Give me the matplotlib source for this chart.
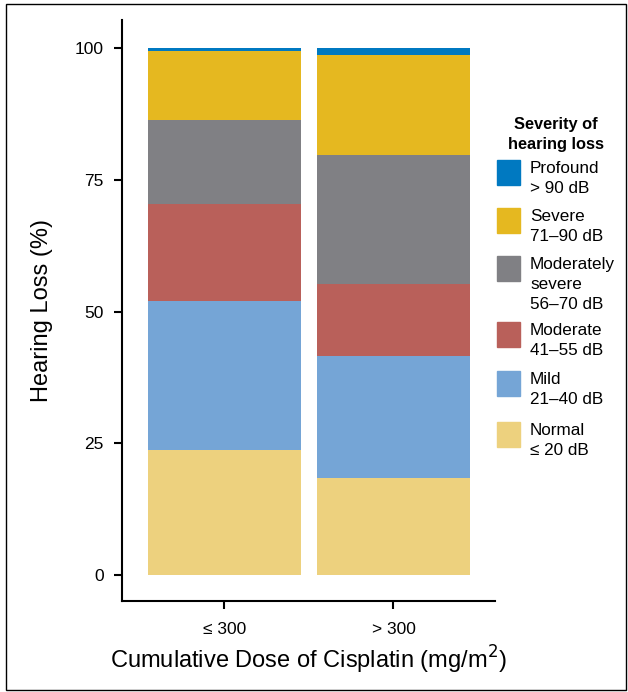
import matplotlib
matplotlib.use('Agg')
import matplotlib.pyplot as plt
from matplotlib.patches import Rectangle
import numpy as np

plt.rcParams['font.family'] = ['Liberation Sans', 'DejaVu Sans']

# 数据：每组的听力损失等级百分比（自下而上）
groups = ['≤ 300', '> 300']
severity = ['Normal', 'Mild', 'Moderate', 'Moderately severe', 'Severe', 'Profound']
values = {
    'Normal':            [23.7, 18.4],
    'Mild':              [28.3, 23.2],
    'Moderate':          [18.5, 13.6],
    'Moderately severe': [15.8, 24.5],
    'Severe':            [13.1, 19.0],
    'Profound':          [0.6, 1.3],
}
legend_labels = ['Profound\n> 90 dB', 'Severe\n71–90 dB', 'Moderately\nsevere\n56–70 dB',
                 'Moderate\n41–55 dB', 'Mild\n21–40 dB', 'Normal\n≤ 20 dB']
colors = {
    'Normal': '#EDD17E',
    'Mild': '#75A5D6',
    'Moderate': '#B9605A',
    'Moderately severe': '#808084',
    'Severe': '#E5B820',
    'Profound': '#0079C1',
}

fig = plt.figure(figsize=(6.28, 6.92), dpi=100)
ax = fig.add_axes([0.194, 0.1315, 0.594, 0.8395])

x = np.arange(len(groups))
bottom = np.zeros(len(groups))
for s in severity:
    v = np.array(values[s])
    ax.bar(x, v, bottom=bottom, width=0.905, color=colors[s], linewidth=0)
    bottom += v

ax.set_xlim(-0.607, 1.6)
ax.set_ylim(-4.9, 105.3)
ax.set_yticks([0, 25, 50, 75, 100])
ax.set_xticks(x)
ax.set_xticklabels(groups)
ax.tick_params(axis='both', labelsize=12.5, length=6, width=1.5, direction='out', pad=7)
ax.tick_params(axis='x', pad=9)
for sp in ['top', 'right']:
    ax.spines[sp].set_visible(False)
for sp in ['left', 'bottom']:
    ax.spines[sp].set_linewidth(1.5)

ax.set_ylabel('Hearing Loss (%)', fontsize=17, labelpad=16)
ax.set_xlabel('Cumulative Dose of Cisplatin (mg/m$^{2}$)', fontsize=17, labelpad=5)

# 图例（手动绘制）
W, H = 628, 692
fig.text(556 / W, 1 - 117 / H, 'Severity of\nhearing loss', ha='center', va='top',
         fontsize=11.8, fontweight='bold', linespacing=1.45)
legend_order = ['Profound', 'Severe', 'Moderately severe', 'Moderate', 'Mild', 'Normal']
tops = [160, 208, 256, 322, 371, 422]
for s, lab, t in zip(legend_order, legend_labels, tops):
    fig.patches.append(Rectangle((497 / W, 1 - (t + 25) / H), 23 / W, 25 / H,
                                 transform=fig.transFigure, color=colors[s]))
    fig.text(530 / W, 1 - (t + 1) / H, lab, ha='left', va='top', fontsize=12.3,
             linespacing=1.4)

# 外框
fig.patches.append(Rectangle((6 / W, 2 / H), 620 / W, 686 / H, transform=fig.transFigure,
                             fill=False, edgecolor='black', linewidth=1))

fig.savefig('out.png', dpi=100)
